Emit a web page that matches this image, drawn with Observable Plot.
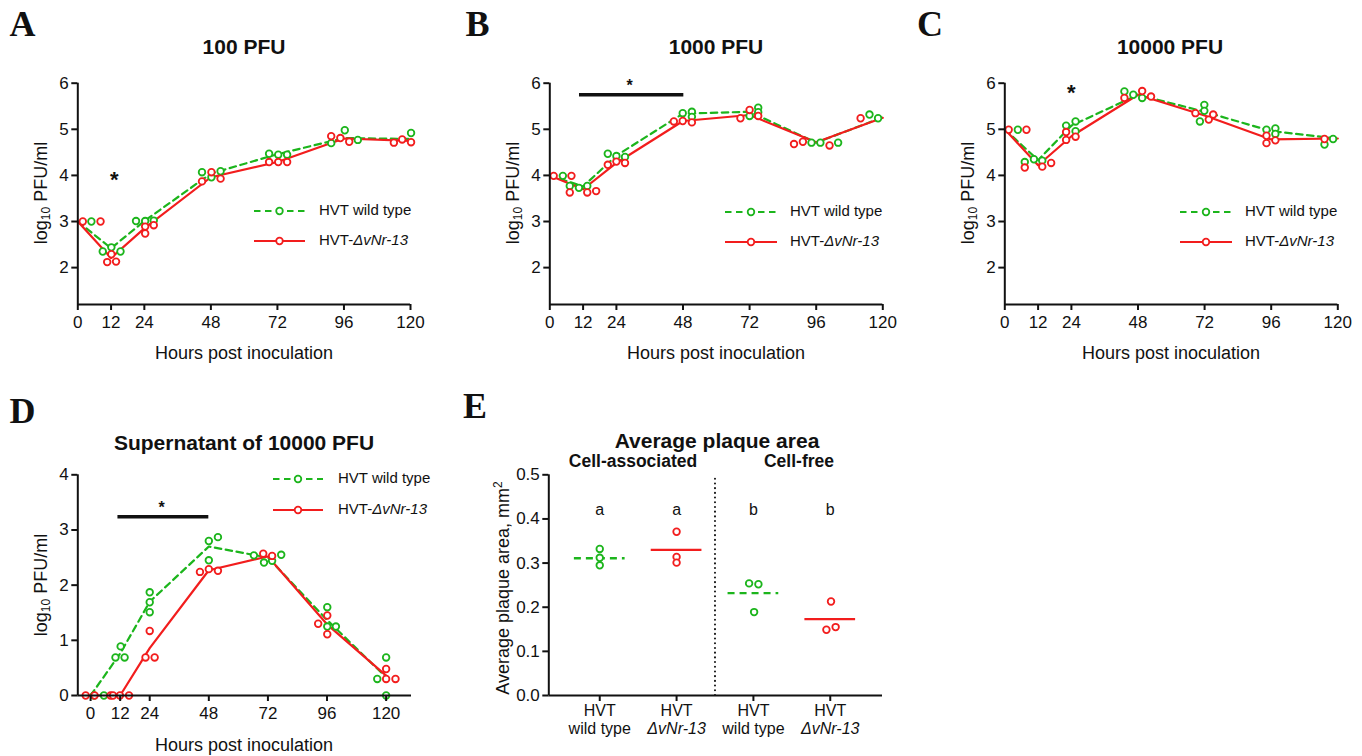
<!DOCTYPE html>
<html><head><meta charset="utf-8">
<script src="https://cdn.jsdelivr.net/npm/d3@7"></script>
<script src="https://cdn.jsdelivr.net/npm/@observablehq/plot@0.6"></script>
<style>
html,body{margin:0;padding:0;background:#fff;}
#fig{position:relative;width:1362px;height:756px;overflow:hidden;font-family:"Liberation Sans",Arial,sans-serif;color:#111;background:#fff;}
.panel{position:absolute;}
.lbl{position:absolute;white-space:nowrap;line-height:1;transform:translate(-50%,-50%);}
.rot{transform:translate(-50%,-50%) rotate(-90deg);}
.letter{font-family:"Liberation Serif","Times New Roman",serif;font-weight:bold;font-size:36px;}
.title{font-weight:bold;font-size:21px;}
.sub{font-weight:bold;font-size:17.5px;}
.axt{font-size:18px;}
.leg{position:absolute;white-space:nowrap;font-size:15px;line-height:1;transform:translateY(-50%);}
</style></head><body><div id="fig"></div><script>
// ---------- data ----------
const hours = [0, 12, 24, 48, 72, 96, 120];
const seriesNames = ["HVT wild type", "HVT-ΔvNr-13"];

// Panel A: 100 PFU
const aWtMean  = [3.0, 2.42, 3.01, 4.04, 4.46, 4.81, 4.79];
const aMutMean = [3.0, 2.21, 2.85, 3.96, 4.29, 4.80, 4.75];
const aWtPts  = [[4.9,3.0],[9.0,2.35],[12.1,2.44],[15.4,2.35],[21,3.01],[24.3,3.01],[27.4,3.02],[44.8,4.07],[48.2,3.96],[51.5,4.09],[69,4.47],[72.3,4.45],[75.5,4.45],[91.4,4.7],[96.3,4.98],[101,4.77],[120.2,4.92]];
const aMutPts = [[1.8,3.0],[8.2,3.0],[10.6,2.12],[12.1,2.29],[13.8,2.13],[24.3,2.74],[24.3,2.89],[27.4,2.92],[44.8,3.87],[48.2,4.07],[51.5,3.93],[69,4.29],[72.3,4.29],[75.5,4.29],[91.4,4.85],[94.7,4.81],[97.9,4.73],[114,4.71],[117,4.78],[120.2,4.72]];

// Panel B: 1000 PFU
const bWtMean  = [4.0, 3.76, 4.43, 5.34, 5.38, 4.71, 5.26];
const bMutMean = [4.0, 3.70, 4.27, 5.18, 5.31, 4.72, 5.25];
const bWtPts  = [[4.7,3.99],[7.2,3.77],[10.5,3.73],[13.5,3.77],[20.9,4.47],[24,4.42],[27.1,4.4],[47.9,5.35],[51.2,5.38],[51.2,5.27],[72,5.29],[75.1,5.47],[75.1,5.37],[94.3,4.71],[97.5,4.71],[103.9,4.71],[115.2,5.32],[118.3,5.24]];
const bMutPts = [[1.4,3.99],[7.8,3.99],[7.2,3.63],[13.5,3.63],[16.7,3.66],[20.9,4.23],[24,4.3],[27.1,4.27],[44.7,5.17],[47.9,5.18],[51.2,5.15],[68.7,5.24],[72,5.42],[75.1,5.29],[88,4.68],[91.2,4.73],[100.8,4.65],[112,5.24]];

// Panel C: 10000 PFU
const cWtMean  = [5.0, 4.33, 5.08, 5.75, 5.38, 4.96, 4.8];
const cMutMean = [5.0, 4.22, 4.85, 5.75, 5.30, 4.78, 4.8];
const cWtPts  = [[4.7,4.99],[7.2,4.29],[10.5,4.35],[13.5,4.32],[22.1,5.08],[25.5,5.17],[25.5,4.96],[43.1,5.82],[46.3,5.75],[49.5,5.68],[70.3,5.17],[71.9,5.53],[71.9,5.4],[94.3,4.99],[97.5,5.02],[97.5,4.9],[115.2,4.67],[118.3,4.79]];
const cMutPts = [[1.4,4.99],[7.8,4.99],[7.2,4.17],[13.5,4.19],[16.7,4.27],[22.1,4.94],[22.1,4.77],[25.5,4.84],[43.1,5.68],[49.5,5.83],[52.7,5.71],[68.7,5.35],[73.5,5.21],[75.1,5.32],[94.3,4.86],[94.3,4.7],[97.5,4.76],[115.2,4.79]];

// Panel D: supernatant of 10000 PFU
const dWtMean  = [0, 0.76, 1.70, 2.70, 2.50, 1.37, 0.33];
const dMutMean = [0, 0, 0.86, 2.27, 2.52, 1.29, 0.36];
const dWtPts  = [[1.4,0],[5.4,0],[10.1,0.69],[12.2,0.89],[13.8,0.69],[24,1.51],[24,1.69],[24,1.87],[48,2.8],[48,2.45],[51.7,2.87],[66.3,2.54],[70.4,2.41],[73.7,2.44],[77.4,2.55],[96.1,1.6],[96.1,1.25],[99.6,1.25],[116.4,0.3],[120,0.69],[120,0]];
const dMutPts = [[-2,0],[1.6,0],[8.1,0],[9.1,0],[11.9,0],[15.6,0],[22.3,0.69],[24,1.17],[26,0.69],[44.4,2.24],[48,2.29],[51.7,2.26],[70.1,2.57],[73.7,2.53],[92.4,1.3],[96.1,1.45],[96.1,1.11],[120,0.48],[120,0.3],[123.8,0.3]];

// significance
const bSig = [{from: 10.7, to: 48.3, v: 5.75}];
const dSig = [{from: 11.1, to: 48.0, v: 3.24}];
const aStar = [{h: 13.2, v: 4.03}];
const bStar = [{h: 28.8, v: 6.02}];
const cStar = [{h: 24.0, v: 5.9}];
const dStar = [{h: 28.8, v: 3.47}];

// Panel E: average plaque area
const eCatPos   = [1, 2, 3, 4];
const eLine1    = ["HVT", "HVT", "HVT", "HVT"];
const eLine2    = ["wild type", "ΔvNr-13", "wild type", "ΔvNr-13"];
const eStrain   = ["wt", "mut", "wt", "mut"];
const eMeans    = [0.311, 0.330, 0.232, 0.173];
const eLetters  = ["a", "a", "b", "b"];
const eWtPts  = [[1,0.332],[1,0.312],[1,0.295],[2.944,0.254],[3.065,0.252],[3.009,0.189]];
const eMutPts = [[2,0.371],[2,0.314],[2,0.301],[4.01,0.213],[3.95,0.149],[4.07,0.155]];

// ---------- drawing ----------
const GREEN = "#1cb51c", RED = "#f21d1d", INK = "#111";
const DASH = "6.5,4.5";
const TICK_FS = 17;
const fig = document.getElementById("fig");
const toPts = arr => arr.map(([h, v]) => ({h, v}));
const meanPts = vals => hours.map((h, i) => ({h, v: vals[i]}));
const baseStyle = {fontFamily: '"Liberation Sans", Arial, sans-serif', fontSize: TICK_FS + "px", color: INK, background: "transparent", overflow: "visible"};

function place(node, left, top) {
  const d = document.createElement("div");
  d.className = "panel"; d.style.left = left + "px"; d.style.top = top + "px";
  d.appendChild(node); fig.appendChild(d);
}
function label(html, cx, cy, cls) {
  const d = document.createElement("div");
  d.className = "lbl " + (cls || ""); d.style.left = cx + "px"; d.style.top = cy + "px";
  d.innerHTML = html; fig.appendChild(d);
}
function legend(x0, x1, textX, ys) {
  [["wt", GREEN, true], ["mut", RED, false]].forEach(([k, col, dashed], i) => {
    const w = x1 - x0, y = ys[i];
    const s = document.createElement("div");
    s.style.cssText = `position:absolute;left:${x0}px;top:${y - 6}px;width:${w}px;height:12px;`;
    s.innerHTML = `<svg width="${w}" height="12" style="overflow:visible"><line x1="0" y1="6" x2="${w}" y2="6" stroke="${col}" stroke-width="2.2" ${dashed ? `stroke-dasharray="${DASH}"` : ""}/><circle cx="${w / 2}" cy="6" r="3.3" fill="white" stroke="${col}" stroke-width="1.8"/></svg>`;
    fig.appendChild(s);
    const t = document.createElement("div");
    t.className = "leg"; t.style.left = textX + "px"; t.style.top = y + "px";
    t.innerHTML = k === "wt" ? seriesNames[0] : `HVT-<i>ΔvNr-13</i>`;
    fig.appendChild(t);
  });
}

function growth(cfg) {
  const [x0, x1] = cfg.xDomain, [y0, y1] = cfg.yDomain;
  const marks = [
    Plot.line(meanPts(cfg.wtMean), {x: "h", y: "v", stroke: GREEN, strokeWidth: 2.2, strokeDasharray: DASH}),
    Plot.line(meanPts(cfg.mutMean), {x: "h", y: "v", stroke: RED, strokeWidth: 2.2}),
    Plot.dot(toPts(cfg.wtPts), {x: "h", y: "v", r: 3.3, stroke: GREEN, strokeWidth: 1.8, fill: "white"}),
    Plot.dot(toPts(cfg.mutPts), {x: "h", y: "v", r: 3.3, stroke: RED, strokeWidth: 1.8, fill: "white"}),
    Plot.ruleX([x0], {y1: y0, y2: cfg.yTicks[cfg.yTicks.length - 1], stroke: INK, strokeWidth: 2}),
    Plot.ruleY([y0], {x1: x0, x2: x1, stroke: INK, strokeWidth: 2}),
    Plot.axisX({ticks: hours, tickFormat: d3.format("d"), tickSize: 6, tickPadding: 5, strokeWidth: 2, label: null, fontSize: TICK_FS}),
    Plot.axisY({ticks: cfg.yTicks, tickFormat: d3.format("d"), tickSize: 6, tickPadding: 3, strokeWidth: 2, label: null, fontSize: TICK_FS})
  ];
  if (cfg.sig) marks.push(Plot.ruleY(cfg.sig, {y: "v", x1: "from", x2: "to", stroke: INK, strokeWidth: 3.5}));
  if (cfg.star) marks.push(Plot.text(cfg.star, {x: "h", y: "v", text: () => "*", fontSize: cfg.starSize, fontWeight: "bold", fill: INK, dy: cfg.starSize * 0.25}));
  return Plot.plot({
    width: cfg.width, height: cfg.height,
    marginLeft: cfg.ml, marginRight: cfg.mr, marginTop: cfg.mt, marginBottom: cfg.mb,
    style: baseStyle,
    x: {domain: cfg.xDomain, label: null},
    y: {domain: cfg.yDomain, label: null},
    marks
  });
}

// A
place(growth({wtMean: aWtMean, mutMean: aMutMean, wtPts: aWtPts, mutPts: aMutPts, star: aStar, starSize: 22,
  xDomain: [0, 120], yDomain: [1.2, 6], yTicks: [2, 3, 4, 5, 6],
  width: 430, height: 280, ml: 77.3, mr: 20, mt: 22.7, mb: 36}), 0, 60);
// B
place(growth({wtMean: bWtMean, mutMean: bMutMean, wtPts: bWtPts, mutPts: bMutPts, sig: bSig, star: bStar, starSize: 16,
  xDomain: [0, 120], yDomain: [1.2, 6], yTicks: [2, 3, 4, 5, 6],
  width: 430, height: 280, ml: 79.3, mr: 17.7, mt: 22.7, mb: 36}), 470, 60);
// C
place(growth({wtMean: cWtMean, mutMean: cMutMean, wtPts: cWtPts, mutPts: cMutPts, star: cStar, starSize: 22,
  xDomain: [0, 120], yDomain: [1.2, 6], yTicks: [2, 3, 4, 5, 6],
  width: 437, height: 280, ml: 79.3, mr: 24.7, mt: 22.7, mb: 36}), 925, 60);
// D
place(growth({wtMean: dWtMean, mutMean: dMutMean, wtPts: dWtPts, mutPts: dMutPts, sig: dSig, star: dStar, starSize: 16,
  xDomain: [-5.2, 130.3], yDomain: [0, 4], yTicks: [0, 1, 2, 3, 4],
  width: 430, height: 270, ml: 77.3, mr: 19, mt: 14.3, mb: 35}), 0, 460);

// E
const eMeanData = eCatPos.map((p, i) => ({pos: p, v: eMeans[i], strain: eStrain[i]}));
const eCatData = eCatPos.map((p, i) => ({pos: p, l1: eLine1[i], l2: eLine2[i], strain: eStrain[i], letter: eLetters[i]}));
const ePlot = Plot.plot({
  width: 430, height: 290, marginLeft: 78.3, marginRight: 18, marginTop: 14.3, marginBottom: 55,
  style: baseStyle,
  x: {domain: [0.337, 4.68], label: null},
  y: {domain: [0, 0.5], label: null},
  marks: [
    Plot.ruleX([2.5], {y1: 0, y2: 0.5, stroke: INK, strokeWidth: 2, strokeDasharray: "0.1,4.6", strokeLinecap: "round"}),
    Plot.ruleY(eMeanData.filter(d => d.strain === "wt"), {y: "v", x1: d => d.pos - 0.33, x2: d => d.pos + 0.33, stroke: GREEN, strokeWidth: 2.4, strokeDasharray: "7,5"}),
    Plot.ruleY(eMeanData.filter(d => d.strain === "mut"), {y: "v", x1: d => d.pos - 0.33, x2: d => d.pos + 0.33, stroke: RED, strokeWidth: 2.4}),
    Plot.dot(toPts(eWtPts), {x: "h", y: "v", r: 3.3, stroke: GREEN, strokeWidth: 1.8, fill: "white"}),
    Plot.dot(toPts(eMutPts), {x: "h", y: "v", r: 3.3, stroke: RED, strokeWidth: 1.8, fill: "white"}),
    Plot.text(eCatData, {x: "pos", y: () => 0.42, text: "letter", fontSize: 16, fill: INK}),
    Plot.ruleX([0.337], {y1: 0, y2: 0.5, stroke: INK, strokeWidth: 2}),
    Plot.ruleY([0], {x1: 0.337, x2: 4.68, stroke: INK, strokeWidth: 2}),
    Plot.axisX({ticks: eCatPos, tickFormat: () => "", tickSize: 6, strokeWidth: 2, label: null}),
    Plot.axisY({ticks: [0, 0.1, 0.2, 0.3, 0.4, 0.5], tickFormat: d3.format(".1f"), tickSize: 6, tickPadding: 3, strokeWidth: 2, label: null, fontSize: TICK_FS}),
    Plot.text(eCatData, {x: "pos", frameAnchor: "bottom", text: "l1", dy: 20, fontSize: 16, fill: INK}),
    Plot.text(eCatData.filter(d => d.strain === "wt"), {x: "pos", frameAnchor: "bottom", text: "l2", dy: 38, fontSize: 16, fill: INK}),
    Plot.text(eCatData.filter(d => d.strain === "mut"), {x: "pos", frameAnchor: "bottom", text: "l2", dy: 38, fontSize: 16, fontStyle: "italic", fill: INK})
  ]
});
place(ePlot, 470, 460);

// ---------- text ----------
label("A", 22.5, 24, "letter"); label("B", 477.5, 24, "letter"); label("C", 930, 24, "letter");
label("D", 22.5, 411, "letter"); label("E", 475, 406, "letter");
label("100 PFU", 244, 46, "title"); label("1000 PFU", 716, 46, "title"); label("10000 PFU", 1170, 46, "title");
label("Supernatant of 10000 PFU", 244, 442, "title");
label("Average plaque area", 717, 440, "title");
label("Cell-associated", 633, 462, "sub");
label("Cell-free", 799, 462, "sub");
const ylab = "log<sub style='font-size:12px;vertical-align:-3px'>10</sub> PFU/ml";
label(ylab, 42, 193, "axt rot"); label(ylab, 514, 193, "axt rot"); label(ylab, 969, 193, "axt rot");
label(ylab, 42, 585, "axt rot");
label("Average plaque area, mm<sup style='font-size:12px;vertical-align:7px'>2</sup>", 502, 588, "axt rot");
label("Hours post inoculation", 244, 353, "axt"); label("Hours post inoculation", 716, 353, "axt");
label("Hours post inoculation", 1171, 353, "axt"); label("Hours post inoculation", 244, 745, "axt");

legend(254, 305, 319, [209, 239]);
legend(725, 777, 790, [210, 240]);
legend(1180, 1232, 1245, [210, 240]);
legend(273, 323, 338, [477, 508]);
</script></body></html>
